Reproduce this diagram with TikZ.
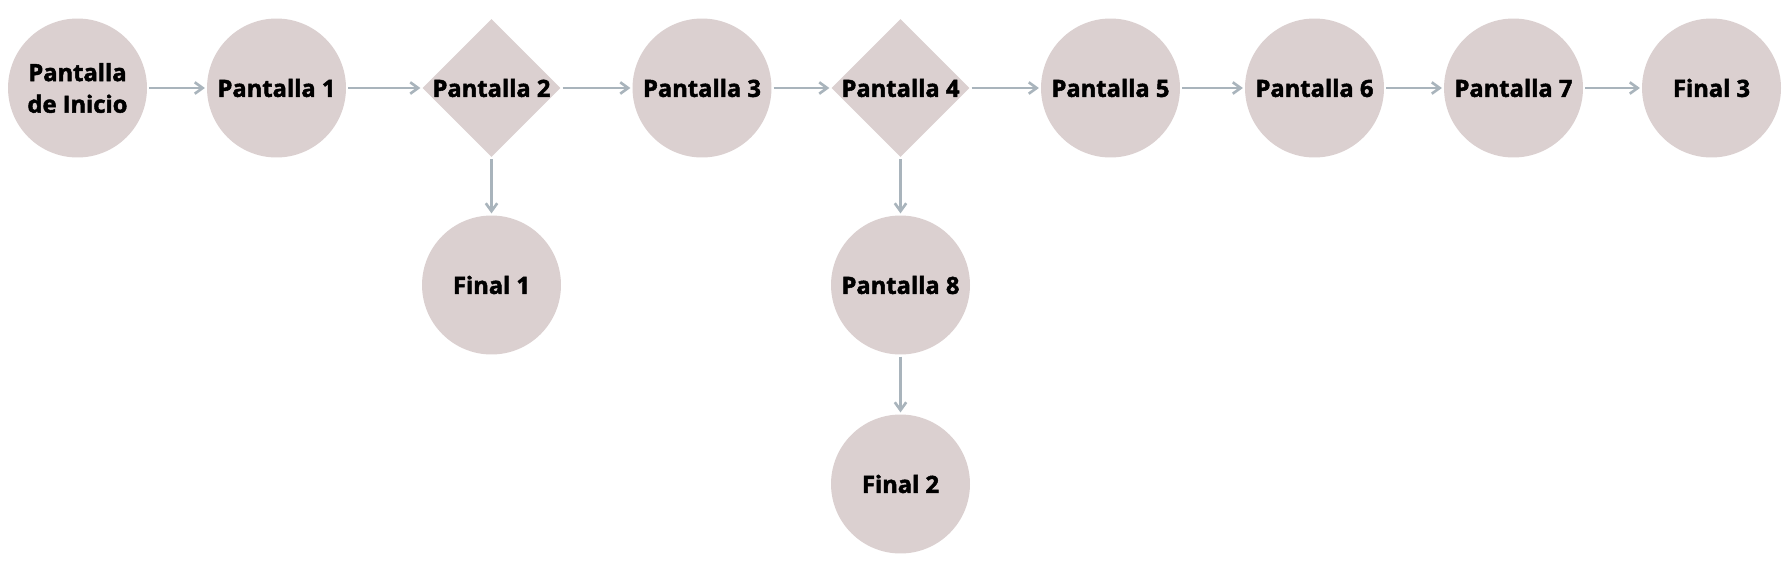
\documentclass[tikz,border=0pt]{standalone}
\usepackage{fontspec}
\setmainfont{Open Sans}[BoldFeatures={FakeBold=2}]
\usetikzlibrary{shapes.geometric,arrows.meta}
\definecolor{relleno}{HTML}{DBD0D0}
\definecolor{linea}{HTML}{A9B4BC}
\tikzset{
  pantalla/.style={circle, fill=relleno, minimum size=2.78cm, inner sep=0pt,
    font=\fontsize{13.5}{18}\selectfont\bfseries, align=center},
  decision/.style={diamond, aspect=1, fill=relleno, minimum size=2.76cm, inner sep=0pt,
    font=\fontsize{13.5}{18}\selectfont\bfseries},
  flecha/.style={draw=linea, line width=1.5pt, -{Straight Barb[length=4.5pt,width=6.5pt]},
    shorten <=1pt, shorten >=1pt}
}
\begin{document}
\begin{tikzpicture}[x=0.02cm, y=-0.02cm]
			\useasboundingbox (0,0) rectangle (1791,575);

			% Main row
			\node[pantalla] (inicio) at (77.5,88) {Pantalla\\de Inicio};
			\node[pantalla] (p1) at (276.5,88) {Pantalla 1};
			\node[decision] (p2) at (491.5,88) {Pantalla 2};
			\node[pantalla] (p3) at (702,88) {Pantalla 3};
			\node[decision] (p4) at (900.5,88) {Pantalla 4};
			\node[pantalla] (p5) at (1110.5,88) {Pantalla 5};
			\node[pantalla] (p6) at (1314.5,88) {Pantalla 6};
			\node[pantalla] (p7) at (1513.5,88) {Pantalla 7};
			\node[pantalla] (f3) at (1711.5,88) {Final 3};

			% Branches
			\node[pantalla] (f1) at (491.5,285) {Final 1};
			\node[pantalla] (p8) at (900.5,285) {Pantalla 8};
			\node[pantalla] (f2) at (900.5,484) {Final 2};

			% Arrows
			\draw[flecha] (inicio) -- (p1);
			\draw[flecha] (p1) -- (p2);
			\draw[flecha] (p2) -- (p3);
			\draw[flecha] (p3) -- (p4);
			\draw[flecha] (p4) -- (p5);
			\draw[flecha] (p5) -- (p6);
			\draw[flecha] (p6) -- (p7);
			\draw[flecha] (p7) -- (f3);
			\draw[flecha] (p2) -- (f1);
			\draw[flecha] (p4) -- (p8);
			\draw[flecha] (p8) -- (f2);
\end{tikzpicture}
\end{document}
